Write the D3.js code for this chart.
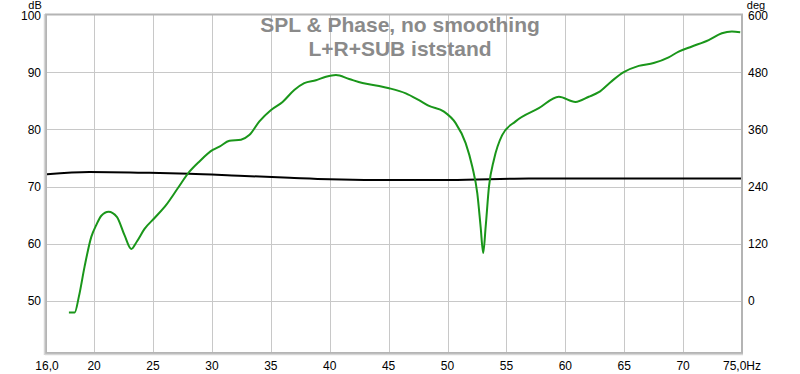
<!DOCTYPE html>
<html>
<head>
<meta charset="utf-8">
<script src="https://cdn.jsdelivr.net/npm/d3@7"></script>
<style>
  body { margin: 0; background: #fff; }
  svg { display: block; }
</style>
</head>
<body>
<svg width="800" height="374"></svg>
<script>
// SPL curve (Hz, dB)
var splFreq = [17.86, 18.35, 18.71, 19.19, 19.76, 20.19, 20.61, 21.23, 21.93, 22.58, 23.15, 23.63, 24.28, 25.13,
  26.12, 27.10, 28.09, 28.94, 30.07, 30.64, 31.49, 32.47, 33.17, 34.03, 35.02, 36.0, 36.99, 37.84, 38.83,
  39.68, 40.53, 41.65, 42.78, 44.19, 45.04, 46.46, 47.58, 48.43, 49.70, 50.69, 51.54, 52.10, 52.53, 52.81,
  53.03, 53.24, 53.52, 53.94, 54.64, 55.78, 57.75, 59.45, 60.86, 61.99, 62.84, 63.86, 64.96, 66.23, 67.50,
  68.77, 69.62, 70.75, 72.17, 73.29, 74.14, 74.85];
var splDb = [48.0, 48.0, 50.8, 56.0, 61.2, 63.3, 64.9, 65.6, 64.7, 61.5, 59.1, 60.4, 62.6, 64.5,
  66.8, 69.7, 72.6, 74.4, 76.4, 77.0, 78.0, 78.2, 79.0, 81.4, 83.4, 84.8, 86.9, 88.1, 88.6,
  89.2, 89.5, 88.8, 88.1, 87.6, 87.2, 86.3, 85.1, 84.1, 83.1, 81.1, 77.6, 73.5, 68.8, 63.0,
  58.4, 63.0, 70.0, 74.7, 79.0, 81.4, 83.7, 85.7, 84.8, 85.7, 86.5, 88.3, 90.0, 91.1, 91.6,
  92.6, 93.6, 94.5, 95.6, 96.8, 97.1, 97.0];

// Phase curve (Hz, deg)
var phaseFreq = [16.0, 19.6, 24.7, 28.1, 32.3, 36.6, 40.0, 45.9, 50.2, 56.9, 62.8, 75.0];
var phaseDeg = [266, 270.6, 268.8, 267, 262.8, 258.6, 255.6, 253.8, 253.8, 256.8, 256.8, 256.8];

var xTicks = [16, 20, 25, 30, 35, 40, 45, 50, 55, 60, 65, 70, 75];
var xTickLabels = ["16,0", "20", "25", "30", "35", "40", "45", "50", "55", "60", "65", "70", "75,0Hz"];
var dbTicks = [50, 60, 70, 80, 90, 100];
var degTicks = [0, 120, 240, 360, 480, 600];

var svg = d3.select("svg");
var pLeft = 47, pRight = 742, pTop = 15, pBottom = 353;

var x = d3.scaleLinear().domain([16, 75]).range([pLeft, pRight]);
var y = d3.scaleLinear().domain([40.9, 100]).range([pBottom, pTop]);
var y2 = d3.scaleLinear().domain([(40.9 - 50) * 12, 600]).range([pBottom, pTop]);

// grid
svg.selectAll(".vgrid").data(xTicks.slice(1, -1)).enter().append("line")
    .attr("x1", function(d) { return Math.round(x(d)) + 0.5; }).attr("x2", function(d) { return Math.round(x(d)) + 0.5; })
    .attr("y1", pTop).attr("y2", pBottom)
    .attr("stroke", "#c8c8c8").attr("stroke-width", 1);
svg.selectAll(".hgrid").data(dbTicks.slice(0, -1)).enter().append("line")
    .attr("x1", pLeft).attr("x2", pRight)
    .attr("y1", function(d) { return Math.round(y(d)) + 0.5; }).attr("y2", function(d) { return Math.round(y(d)) + 0.5; })
    .attr("stroke", "#c8c8c8").attr("stroke-width", 1);

var sansFont = "'Liberation Sans', Arial, sans-serif";

// title
svg.append("text")
    .attr("x", 400).attr("y", 32)
    .attr("text-anchor", "middle")
    .attr("font-family", sansFont)
    .attr("font-weight", "bold")
    .style("font-size", "21px")
    .attr("fill", "#8a8a8a")
    .text("SPL & Phase, no smoothing");
svg.append("text")
    .attr("x", 400).attr("y", 56)
    .attr("text-anchor", "middle")
    .attr("font-family", sansFont)
    .attr("font-weight", "bold")
    .style("font-size", "21px")
    .attr("fill", "#8a8a8a")
    .text("L+R+SUB iststand");

// lines
var phaseData = phaseFreq.map(function(f, i) { return [f, phaseDeg[i]]; });
var splData = splFreq.map(function(f, i) { return [f, splDb[i]]; });

var phaseLine = d3.line()
    .x(function(d) { return x(d[0]); })
    .y(function(d) { return y2(d[1]); })
    .curve(d3.curveMonotoneX);
var splLine = d3.line()
    .x(function(d) { return x(d[0]); })
    .y(function(d) { return y(d[1]); })
    .curve(d3.curveMonotoneX);

svg.append("path")
    .datum(phaseData)
    .attr("fill", "none")
    .attr("stroke", "#000")
    .attr("stroke-width", 2)
    .attr("d", phaseLine);

svg.append("path")
    .datum(splData)
    .attr("fill", "none")
    .attr("stroke", "#1a961a")
    .attr("stroke-width", 2)
    .attr("stroke-linejoin", "round")
    .attr("d", splLine);

// frame
svg.append("rect")
    .attr("x", pLeft - 1).attr("y", pTop - 0.5)
    .attr("width", pRight - pLeft + 1).attr("height", pBottom - pTop + 0.5)
    .attr("fill", "none")
    .attr("stroke", "#b4b4b4")
    .attr("stroke-width", 2);
svg.append("line")
    .attr("x1", pLeft - 2.5).attr("x2", pLeft - 2.5).attr("y1", pTop - 1).attr("y2", pBottom + 2)
    .attr("stroke", "#d6d6d6").attr("stroke-width", 1.5);
svg.append("line")
    .attr("x1", pLeft - 2).attr("x2", pRight + 1).attr("y1", pBottom + 1.5).attr("y2", pBottom + 1.5)
    .attr("stroke", "#d6d6d6").attr("stroke-width", 1.5);

// tick labels
svg.selectAll(".xlab").data(xTicks).enter().append("text")
    .attr("x", function(d) { return x(d); })
    .attr("y", 370)
    .attr("text-anchor", "middle")
    .attr("font-family", sansFont)
    .style("font-size", "12px")
    .attr("fill", "#000")
    .text(function(d, i) { return xTickLabels[i]; });

svg.selectAll(".ylab").data(dbTicks).enter().append("text")
    .attr("x", 41)
    .attr("y", function(d) { return y(d) + 4.5; })
    .attr("text-anchor", "end")
    .attr("font-family", sansFont)
    .style("font-size", "12px")
    .attr("fill", "#000")
    .text(function(d) { return d; });

svg.selectAll(".y2lab").data(degTicks).enter().append("text")
    .attr("x", 748)
    .attr("y", function(d) { return y2(d) + 4.5; })
    .attr("text-anchor", "start")
    .attr("font-family", sansFont)
    .style("font-size", "12px")
    .attr("fill", "#000")
    .text(function(d) { return d; });

svg.append("text")
    .attr("x", 35).attr("y", 8.5)
    .attr("text-anchor", "middle")
    .attr("font-family", sansFont)
    .style("font-size", "11px")
    .text("dB");
svg.append("text")
    .attr("x", 756).attr("y", 8.5)
    .attr("text-anchor", "middle")
    .attr("font-family", sansFont)
    .style("font-size", "11px")
    .text("deg");
</script>
</body>
</html>
